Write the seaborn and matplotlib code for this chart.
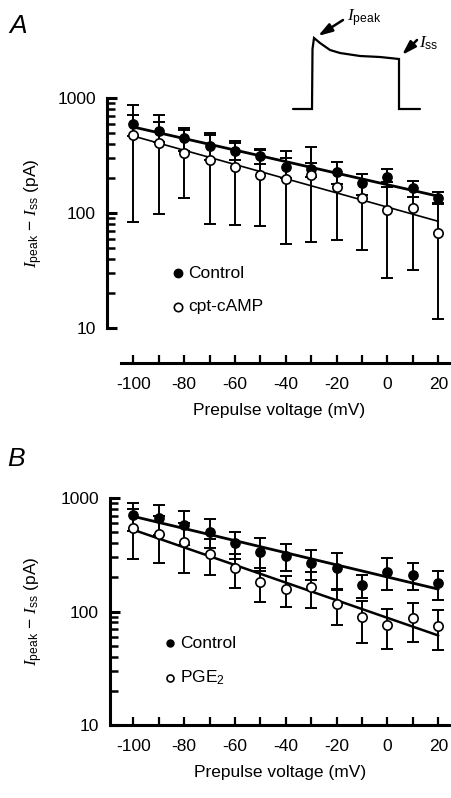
import numpy as np
import pandas as pd
import matplotlib
matplotlib.use('Agg')
import matplotlib.pyplot as plt
import seaborn as sns
from matplotlib.ticker import LogLocator, NullFormatter, FixedLocator, FixedFormatter

# ---------------- data ----------------
voltage = [-100, -90, -80, -70, -60, -50, -40, -30, -20, -10, 0, 10, 20]

a_control = [590, 516, 446, 383, 348, 313, 250, 240, 229, 181, 204, 164, 136]
a_control_sem = [121, 100, 100, 93, 60, 45, 50, 34, 51, 39, 36, 26, 17]
a_camp = [476, 404, 334, 287, 250, 215, 199, 214, 169, 134, 106, 111, 67]
a_camp_sem = [392, 306, 198, 206, 171, 138, 145, 158, 111, 86, 79, 79, 55]

b_control = [708, 671, 578, 505, 399, 337, 310, 269, 240, 171, 225, 210, 177]
b_control_sem = [200, 196, 190, 144, 106, 110, 81, 79, 86, 39, 69, 56, 51]
b_pge2 = [541, 482, 408, 321, 240, 183, 157, 166, 117, 89, 76, 87, 75]
b_pge2_sem = [251, 216, 191, 111, 80, 61, 47, 59, 41, 36, 29, 33, 29]

x_ticks = [-100, -80, -60, -40, -20, 0, 20]
x_tick_labels = ['-100', '-80', '-60', '-40', '-20', '0', '20']
y_ticks = [10, 100, 1000]
y_tick_labels = ['10', '100', '1000']

# schematic current trace for the inset (arbitrary units)
trace_time = [0, 19, 19.5, 21, 27, 37, 47, 67, 87, 106, 106, 127]
trace_current = [0, 0, 60, 71, 66, 59, 56, 53, 52, 50, 0, 0]

# ---------------- style ----------------
sns.set_theme(style='ticks')
plt.rcParams['font.family'] = ['Liberation Sans', 'DejaVu Sans']
plt.rcParams['axes.unicode_minus'] = False
plt.rcParams['mathtext.fontset'] = 'custom'
plt.rcParams['mathtext.it'] = 'Liberation Serif:italic'
plt.rcParams['mathtext.rm'] = 'Liberation Sans'
plt.rcParams['mathtext.sf'] = 'Liberation Sans'
plt.rcParams['mathtext.bf'] = 'Liberation Sans:bold'
for k in ['text.color', 'axes.labelcolor', 'xtick.color', 'ytick.color', 'axes.edgecolor']:
    plt.rcParams[k] = 'black'

W, H = 451, 798
fig = plt.figure(figsize=(W / 100, H / 100), dpi=100)
fig.patch.set_facecolor('white')

ylabel = r'$I_{\mathrm{peak}}$ $-$ $I_{\mathrm{ss}}$ (pA)'
FS = 12.5


def px_axes(left, top, right, bottom):
    return fig.add_axes([left / W, 1 - bottom / H, (right - left) / W, (bottom - top) / H])


def draw_panel(ax, ctrl, ctrl_sem, trt, trt_sem, trt_label, xleft, trt_lw,
               offset, xspine_start, leg_anchor, leg_scale):
    df = pd.DataFrame({'v': voltage, 'ctrl': ctrl, 'trt': trt})
    # error bars
    ax.errorbar(voltage, ctrl, yerr=ctrl_sem, fmt='none', ecolor='black',
                elinewidth=1.4, capsize=4.5, capthick=1.4, zorder=2)
    ax.errorbar(voltage, trt, yerr=trt_sem, fmt='none', ecolor='black',
                elinewidth=1.4, capsize=4.5, capthick=1.4, zorder=2)
    # exponential fits (linear regression on log10 values)
    xs = np.array([voltage[0], voltage[-1]], dtype=float)
    pc = np.polyfit(voltage, np.log10(ctrl), 1)
    pt = np.polyfit(voltage, np.log10(trt), 1)
    ax.plot(xs, 10 ** np.polyval(pc, xs), color='black', lw=2.0, zorder=3)
    ax.plot(xs, 10 ** np.polyval(pt, xs), color='black', lw=trt_lw, zorder=3)
    # markers
    sns.scatterplot(data=df, x='v', y='ctrl', ax=ax, color='black', edgecolor='black',
                    s=45, linewidth=1.0, zorder=5, label='Control')
    sns.scatterplot(data=df, x='v', y='trt', ax=ax, color='white', edgecolor='black',
                    s=45, linewidth=1.2, zorder=5, label=trt_label)

    ax.set_yscale('log')
    ax.set_ylim(10, 1000)
    ax.set_xlim(xleft, 25)
    ax.yaxis.set_major_locator(FixedLocator(y_ticks))
    ax.yaxis.set_major_formatter(FixedFormatter(y_tick_labels))
    ax.yaxis.set_minor_locator(LogLocator(base=10, subs=np.arange(2, 10)))
    ax.yaxis.set_minor_formatter(NullFormatter())
    ax.xaxis.set_major_locator(FixedLocator(x_ticks))
    ax.xaxis.set_major_formatter(FixedFormatter(x_tick_labels))
    ax.xaxis.set_minor_locator(FixedLocator(voltage))

    for s in ['top', 'right']:
        ax.spines[s].set_visible(False)
    ax.spines['left'].set_linewidth(2.2)
    ax.spines['bottom'].set_linewidth(2.2)
    if offset:
        ax.spines['bottom'].set_position(('outward', offset))
    ax.spines['bottom'].set_bounds(xspine_start, 25)

    ax.tick_params(axis='y', which='major', direction='in', length=7, width=2.2,
                   labelsize=FS, pad=8)
    ax.tick_params(axis='y', which='minor', direction='in', length=6, width=1.8)
    ax.tick_params(axis='x', which='both', direction='in', length=6, width=1.6,
                   labelsize=FS, pad=10)

    ax.set_xlabel('Prepulse voltage (mV)', fontsize=FS, labelpad=8)
    ax.set_ylabel(ylabel, fontsize=FS)
    ax.patch.set_alpha(0)
    ax.grid(False)

    ax.legend(loc='center left', bbox_to_anchor=leg_anchor, frameon=False,
              fontsize=FS, handletextpad=0.1, handlelength=1.0, markerscale=leg_scale,
              labelspacing=1.05, borderaxespad=0)


# ---------------- panel A ----------------
axA = px_axes(107, 98, 451, 328)
draw_panel(axA, a_control, a_control_sem, a_camp, a_camp_sem, 'cpt-cAMP',
           xleft=-110.4, trt_lw=1.2, offset=25, xspine_start=-105,
           leg_anchor=(0.16, 0.165), leg_scale=0.9)
axA.yaxis.set_label_coords(-0.18, 0.5)

# ---------------- panel B ----------------
axB = px_axes(110, 498, 451, 725)
draw_panel(axB, b_control, b_control_sem, b_pge2, b_pge2_sem, r'PGE$_2$',
           xleft=-109.2, trt_lw=1.8, offset=0, xspine_start=-109.2,
           leg_anchor=(0.13, 0.28), leg_scale=0.75)
axB.yaxis.set_label_coords(-0.19, 0.5)

# panel letters
fig.text(9 / W, 1 - 33 / H, 'A', fontsize=19, style='italic', va='baseline', ha='left')
fig.text(7 / W, 1 - 466 / H, 'B', fontsize=19, style='italic', va='baseline', ha='left')

# ---------------- inset trace ----------------
axI = fig.add_axes([280 / W, 1 - 120 / H, 171 / W, 120 / H])
axI.plot(trace_time, trace_current, color='black', lw=1.6, solid_joinstyle='miter')
axI.set_xlim(-13, 158)
axI.set_ylim(-11, 109)
axI.axis('off')
arrow = dict(arrowstyle='-|>,head_length=0.7,head_width=0.22', color='black', lw=1.8,
             shrinkA=0, shrinkB=0)
axI.annotate('', xy=(25, 73), xytext=(50, 89), arrowprops=arrow)
axI.text(54, 91, r'$I_{\mathrm{peak}}$', fontsize=12.5, ha='left', va='center')
axI.annotate('', xy=(109, 54), xytext=(124, 69), arrowprops=arrow)
axI.text(126, 66, r'$I_{\mathrm{ss}}$', fontsize=12.5, ha='left', va='center')

fig.savefig('out.png', dpi=100, facecolor='white')
